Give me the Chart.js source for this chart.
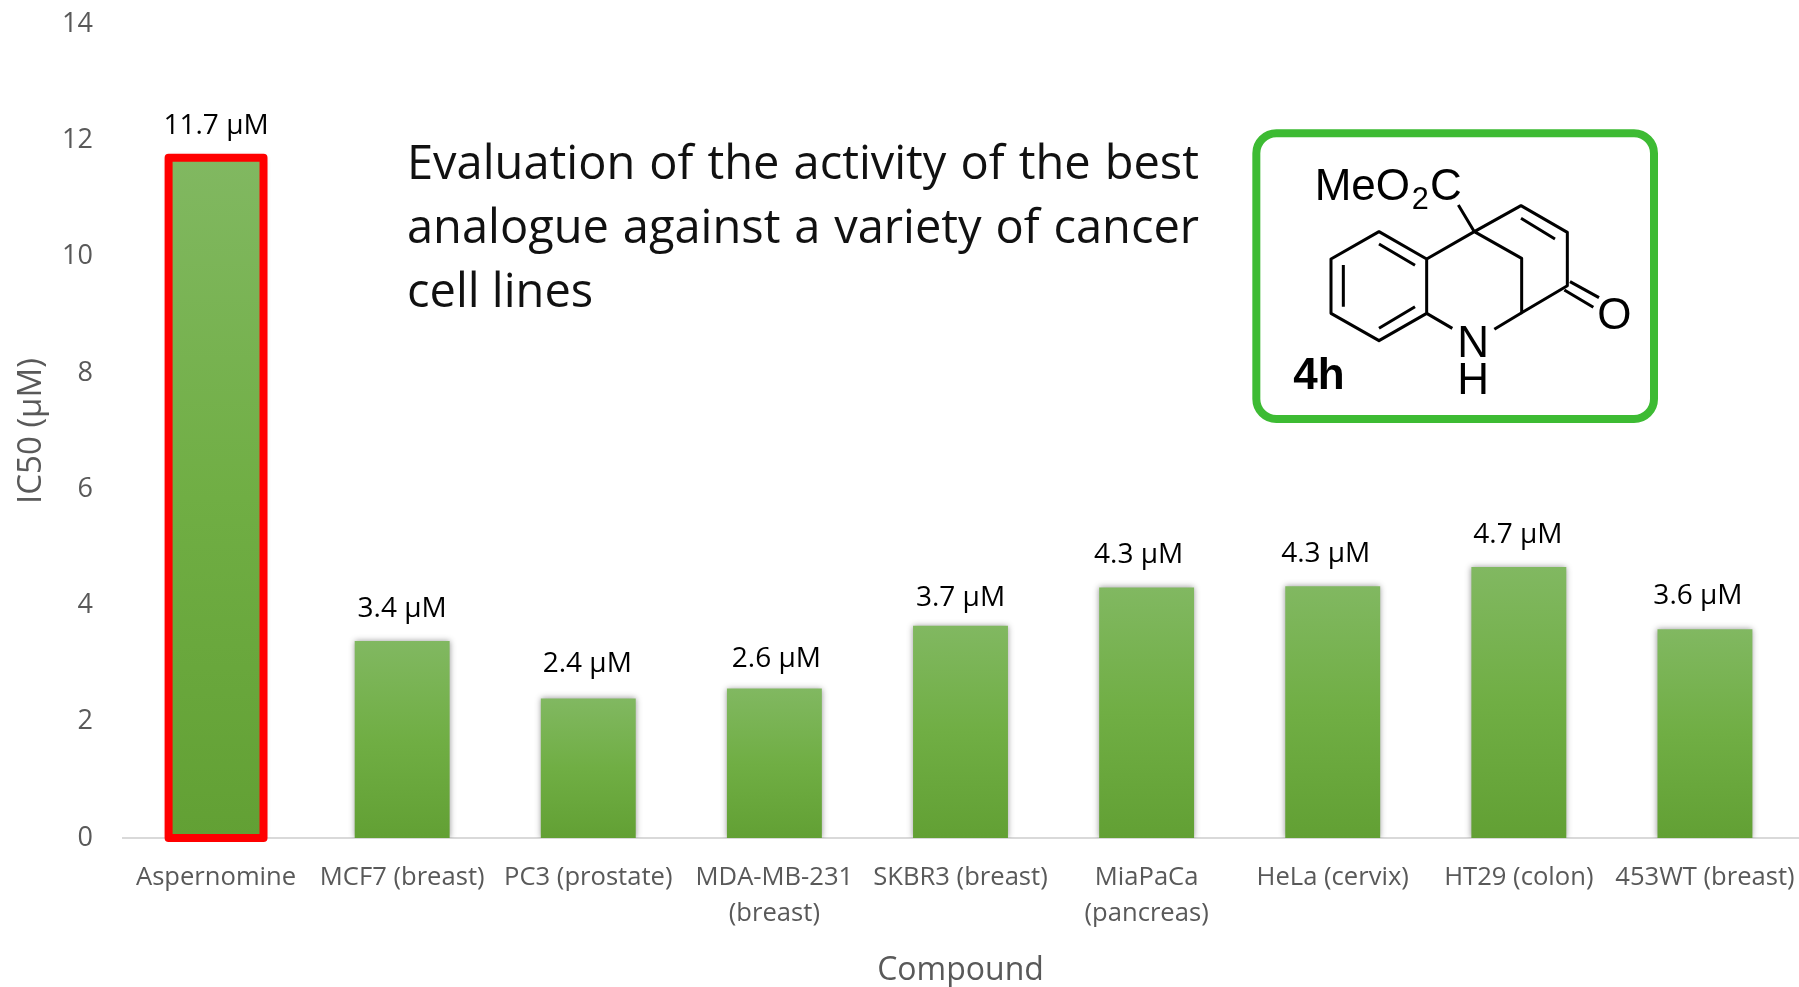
<!DOCTYPE html>
<html>
<head>
<meta charset="utf-8">
<title>IC50 of the best analogue</title>
<script src="https://cdn.jsdelivr.net/npm/chart.js@4"></script>
<style>
  body { margin: 0; background: #fff; }
  #wrap { position: relative; width: 1799px; height: 987px; overflow: hidden; }
  canvas { position: absolute; left: 0; top: 0; }
  #note {
    position: absolute; left: 407px; top: 129px; width: 792px;
    font: 47px/64px "Open Sans", sans-serif; color: #111;
  }
  #note div { text-align: justify; text-align-last: justify; }
  #note div:last-child { text-align-last: left; }
  #structure { position: absolute; left: 1230px; top: 110px; }
  #structure text { font-family: "Liberation Sans", Arial, sans-serif; font-size: 132px; fill: #000; }
</style>
</head>
<body>
<div id="wrap">
  <canvas id="ic50Chart" width="1799" height="987"></canvas>
  <div id="note">
    <div>Evaluation of the activity of the best</div>
    <div>analogue against a variety of cancer</div>
    <div>cell lines</div>
  </div>
  <!-- compound 4h, coordinates follow the box crop, 3 units per pixel -->
  <svg id="structure" width="450" height="330" viewBox="0 0 1350 990">
    <rect x="79" y="70" width="1193" height="857" rx="60" fill="#fff" stroke="#3dbb33" stroke-width="24"/>
    <g fill="none" stroke="#000" stroke-width="9" stroke-linejoin="round">
      <path d="M447 365 L590 447 L590 610 L447 692 L303 610 L303 447 Z"/>
      <path d="M447 402 L555 466 M340 465 L340 590 M447 655 L555 590"/>
      <path d="M590 447 L733 365 L873 287 L1012 367 L1012 527 L875 608 L875 445 L733 365"/>
      <path d="M873 325 L975 387 M875 608 L793 658 M590 610 L667 655 M733 365 L685 285"/>
      <path d="M1020 515 L1107 563 M1003 540 L1090 592"/>
    </g>
    <text x="254" y="270">MeO</text>
    <text x="545" y="298" style="font-size:92px">2</text>
    <text x="600" y="270">C</text>
    <text x="1102" y="656">O</text>
    <text x="682" y="741">N</text>
    <text x="682" y="851">H</text>
    <text x="190" y="836" style="font-weight:bold">4h</text>
  </svg>
</div>
<script>
const cellLines = ['Aspernomine', 'MCF7 (breast)', 'PC3 (prostate)', ['MDA-MB-231', '(breast)'], 'SKBR3 (breast)',
    ['MiaPaCa', '(pancreas)'], 'HeLa (cervix)', 'HT29 (colon)', '453WT (breast)'];
const ic50Values = [11.7, 3.39, 2.4, 2.57, 3.65, 4.31, 4.33, 4.66, 3.59];
const valueLabels = ['11.7 µM', '3.4 µM', '2.4 µM', '2.6 µM', '3.7 µM', '4.3 µM', '4.3 µM', '4.7 µM', '3.6 µM'];
const highlightedBars = [0];

// the labels were dragged by hand in the original, so they do not sit evenly
const labelLift = [32, 32, 34, 30, 28, 32, 32, 32, 33];
const labelShift = [0, 0, -1, 2, 0, -8, -7, -1, -7];

const fontFamily = '"Open Sans", sans-serif';
const greyText = '#595959';

// Excel style vertical gradient per bar
function barGradient(context) {
    const chart = context.chart;
    if (!chart.chartArea || context.type !== 'data') return '#70ad47';
    const y = chart.scales.y;
    const g = chart.ctx.createLinearGradient(0, y.getPixelForValue(context.raw), 0, y.getPixelForValue(0));
    g.addColorStop(0, '#81b861');
    g.addColorStop(0.5, '#70ae44');
    g.addColorStop(1, '#62a034');
    return g;
}

// Soft shadow at the bar edges, then the red frame and the value labels on top
const barExtras = {
    id: 'barExtras',
    beforeDatasetsDraw(chart) {
        const ctx = chart.ctx;
        ctx.save();
        ctx.shadowColor = 'rgba(0,0,0,0.4)';
        ctx.shadowBlur = 6;
    },
    afterDatasetsDraw(chart) {
        const ctx = chart.ctx;
        ctx.restore();
        const bars = chart.getDatasetMeta(0).data;

        ctx.save();
        ctx.strokeStyle = '#ff0000';
        ctx.lineWidth = 8;
        ctx.lineJoin = 'round';
        highlightedBars.forEach(i => {
            const b = bars[i];
            ctx.strokeRect(b.x - b.width / 2, b.y, b.width, b.base - b.y);
        });
        ctx.fillStyle = '#000';
        ctx.font = '28px ' + fontFamily;
        ctx.textAlign = 'center';
        ctx.textBaseline = 'middle';
        bars.forEach((b, i) => {
            ctx.fillText(valueLabels[i], b.x + labelShift[i], b.y - labelLift[i]);
        });
        ctx.restore();
    }
};

new Chart(document.getElementById('ic50Chart'), {
    type: 'bar',
    data: {
        labels: cellLines,
        datasets: [{
            data: ic50Values,
            backgroundColor: barGradient,
            borderWidth: 0,
            barPercentage: 0.51,
            categoryPercentage: 1
        }]
    },
    options: {
        responsive: false,
        animation: false,
        layout: { padding: { top: 24, right: 1 } },
        plugins: { legend: { display: false }, tooltip: { enabled: false } },
        scales: {
            x: {
                // fixed band, no extra margin for the long end labels
                afterFit(scale) {
                    scale.height = 149;
                    scale.paddingLeft = 0;
                    scale.paddingRight = 0;
                },
                grid: { display: false },
                border: { color: '#d9d9d9', width: 2 },
                ticks: {
                    color: greyText,
                    font: { family: fontFamily, size: 25.6, lineHeight: 1.4 },
                    padding: 14,
                    maxRotation: 0,
                    autoSkip: false
                },
                title: {
                    display: true,
                    text: 'Compound',
                    color: greyText,
                    font: { family: fontFamily, size: 32, lineHeight: 1 },
                    padding: { bottom: 0 }
                }
            },
            y: {
                min: 0,
                max: 14,
                afterFit(scale) {
                    scale.width = 123;
                    scale.paddingTop = 0;
                    scale.paddingBottom = 0;
                },
                grid: { display: false },
                border: { display: false },
                ticks: {
                    stepSize: 2,
                    color: greyText,
                    font: { family: fontFamily, size: 27 },
                    padding: 22
                },
                title: {
                    display: true,
                    text: 'IC50 (µM)',
                    color: greyText,
                    font: { family: fontFamily, size: 33 },
                    padding: { top: 12 }
                }
            }
        }
    },
    plugins: [barExtras]
});
</script>
</body>
</html>
